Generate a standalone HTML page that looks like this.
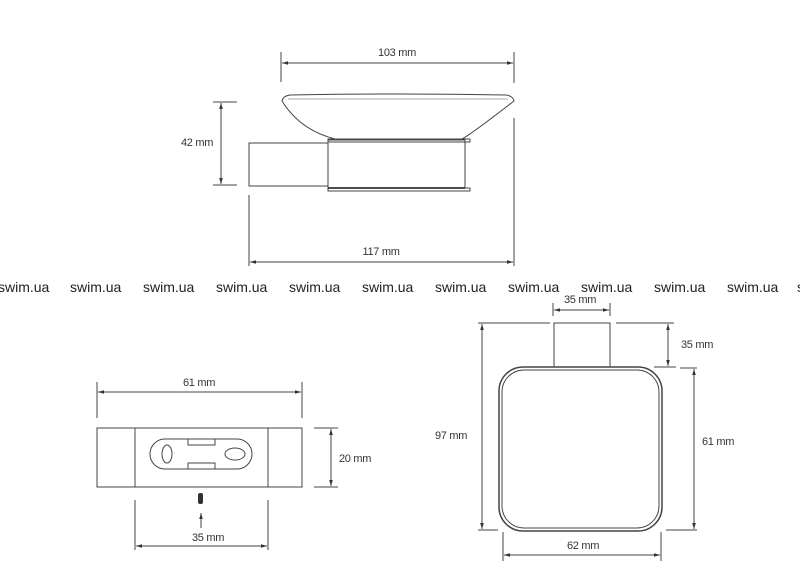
<!DOCTYPE html>
<html><head><meta charset="utf-8"><style>
html,body{margin:0;padding:0;background:#fff;}
svg{display:block;}
text{font-family:"Liberation Sans",sans-serif;font-size:11px;fill:#333;letter-spacing:-0.3px;}
.w{font-size:14px;fill:#222;letter-spacing:0;}
</style></head><body>
<svg width="800" height="577" viewBox="0 0 800 577" xmlns="http://www.w3.org/2000/svg">
<defs>
<marker id="a" viewBox="0 0 10 10" refX="10" refY="5" markerWidth="6" markerHeight="6" orient="auto-start-reverse"><path d="M0,2 L10,5 L0,8 z" fill="#333"/></marker>
</defs>
<g stroke="#444" stroke-width="1" fill="none">
<line x1="281" y1="52" x2="281" y2="82"/><line x1="514" y1="52" x2="514" y2="83"/>
<line x1="282" y1="63" x2="513" y2="63" marker-start="url(#a)" marker-end="url(#a)"/>
<path d="M282,101 Q283,96 290,95 Q397,93 506,95 Q513,96 514,101 Q470,135 462,139 L335,139 Q300,130 282,101 Z"/>
<line x1="288" y1="99" x2="508" y2="99" stroke="#aaa"/>
<rect x="328" y="140" width="137" height="48"/>
<rect x="328" y="139" width="142" height="3"/>
<rect x="328" y="188" width="142" height="3"/>
<line x1="328" y1="188" x2="465" y2="188" stroke="#111" stroke-width="1.5"/>
<rect x="249" y="143" width="79" height="43"/>
<line x1="213" y1="102" x2="237" y2="102"/><line x1="213" y1="185" x2="237" y2="185"/>
<line x1="221" y1="103" x2="221" y2="184" marker-start="url(#a)" marker-end="url(#a)"/>
<line x1="249" y1="195" x2="249" y2="266"/><line x1="514" y1="118" x2="514" y2="266"/>
<line x1="250" y1="262" x2="513" y2="262" marker-start="url(#a)" marker-end="url(#a)"/>
<line x1="97" y1="382" x2="97" y2="418"/><line x1="302" y1="382" x2="302" y2="418"/>
<line x1="98" y1="392" x2="301" y2="392" marker-start="url(#a)" marker-end="url(#a)"/>
<rect x="97" y="428" width="205" height="59"/>
<line x1="135" y1="428" x2="135" y2="487"/><line x1="268" y1="428" x2="268" y2="487"/>
<rect x="150" y="439" width="102" height="30" rx="15"/>
<rect x="188" y="439" width="27" height="6"/><rect x="188" y="463" width="27" height="6"/>
<ellipse cx="167" cy="454" rx="5" ry="9"/><ellipse cx="235" cy="454" rx="10" ry="6"/>
<line x1="314" y1="428" x2="338" y2="428"/><line x1="314" y1="487" x2="338" y2="487"/>
<line x1="331" y1="429" x2="331" y2="486" marker-start="url(#a)" marker-end="url(#a)"/>
<line x1="201" y1="528" x2="201" y2="513" marker-end="url(#a)"/>
<line x1="135" y1="500" x2="135" y2="550"/><line x1="268" y1="500" x2="268" y2="550"/>
<line x1="136" y1="546" x2="267" y2="546" marker-start="url(#a)" marker-end="url(#a)"/>
<line x1="553" y1="303" x2="553" y2="316"/><line x1="610" y1="303" x2="610" y2="316"/>
<line x1="554" y1="310" x2="609" y2="310" marker-start="url(#a)" marker-end="url(#a)"/>
<rect x="554" y="323" width="56" height="44"/>
<line x1="478" y1="323" x2="550" y2="323"/><line x1="616" y1="323" x2="674" y2="323"/>
<line x1="654" y1="367" x2="676" y2="367"/><line x1="680" y1="368" x2="697" y2="368"/>
<line x1="482" y1="324" x2="482" y2="529" marker-start="url(#a)" marker-end="url(#a)"/>
<line x1="478" y1="530" x2="498" y2="530"/>
<line x1="668" y1="324" x2="668" y2="366" marker-start="url(#a)" marker-end="url(#a)"/>
<line x1="694" y1="369" x2="694" y2="529" marker-start="url(#a)" marker-end="url(#a)"/>
<line x1="666" y1="530" x2="697" y2="530"/>
<rect x="499" y="367" width="163" height="164" rx="24" stroke-width="1.5"/>
<rect x="502" y="370" width="157" height="158" rx="22"/>
<line x1="503" y1="532" x2="503" y2="561"/><line x1="661" y1="532" x2="661" y2="561"/>
<line x1="504" y1="555" x2="660" y2="555" marker-start="url(#a)" marker-end="url(#a)"/>
</g>
<rect x="198" y="493" width="5" height="11" rx="2" fill="#333"/>
<text x="397" y="56" text-anchor="middle">103 mm</text>
<text x="197" y="146" text-anchor="middle">42 mm</text>
<text x="381" y="255" text-anchor="middle">117 mm</text>
<text x="199" y="386" text-anchor="middle">61 mm</text>
<text x="355" y="462" text-anchor="middle">20 mm</text>
<text x="208" y="541" text-anchor="middle">35 mm</text>
<text x="580" y="303" text-anchor="middle">35 mm</text>
<text x="697" y="348" text-anchor="middle">35 mm</text>
<text x="451" y="439" text-anchor="middle">97 mm</text>
<text x="718" y="445" text-anchor="middle">61 mm</text>
<text x="583" y="549" text-anchor="middle">62 mm</text>
<text class="w" x="-2" y="292">swim.ua</text>
<text class="w" x="70" y="292">swim.ua</text>
<text class="w" x="143" y="292">swim.ua</text>
<text class="w" x="216" y="292">swim.ua</text>
<text class="w" x="289" y="292">swim.ua</text>
<text class="w" x="362" y="292">swim.ua</text>
<text class="w" x="435" y="292">swim.ua</text>
<text class="w" x="508" y="292">swim.ua</text>
<text class="w" x="581" y="292">swim.ua</text>
<text class="w" x="654" y="292">swim.ua</text>
<text class="w" x="727" y="292">swim.ua</text>
<text class="w" x="797" y="292">swim.ua</text>
</svg>
</body></html>
